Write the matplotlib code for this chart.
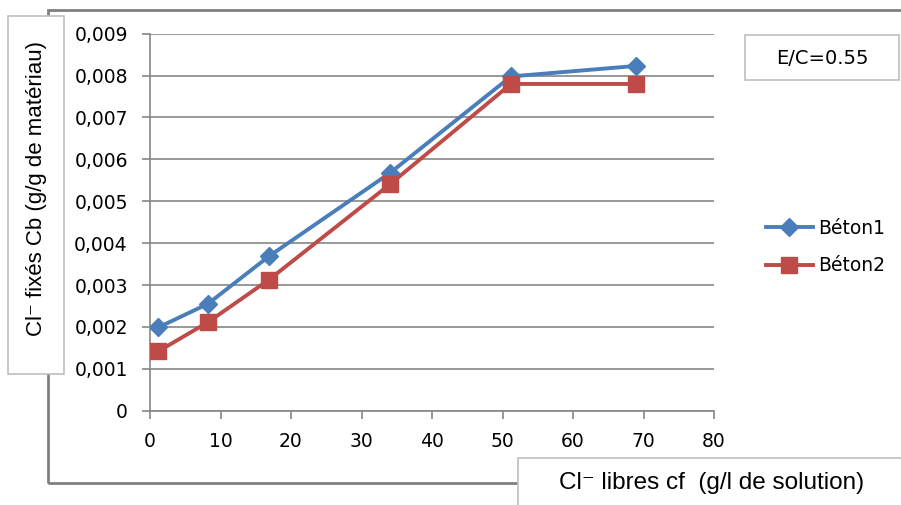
import matplotlib
matplotlib.use("Agg")
import matplotlib.pyplot as plt
from matplotlib.patches import Rectangle
from matplotlib.ticker import FuncFormatter

# data
cl_libres = [1.2, 8.2, 16.9, 34.0, 51.2, 68.9]
beton1 = [0.00199, 0.00255, 0.00369, 0.00567, 0.00798, 0.00823]
beton2 = [0.00142, 0.00211, 0.00313, 0.00540, 0.00780, 0.00780]
series_names = ["Béton1", "Béton2"]
x_ticks = [0, 10, 20, 30, 40, 50, 60, 70, 80]
y_ticks = [0, 0.001, 0.002, 0.003, 0.004, 0.005, 0.006, 0.007, 0.008, 0.009]

W, H = 901, 505
BLUE = "#4A7EBB"
RED = "#BE4B48"
GRID = "#868686"
LABEL_FONT = ["Liberation Sans", "DejaVu Sans"]


def fx(px):
    return px / W


def fy(py):
    return 1 - py / H


def box(fig, x0, y0, x1, y1, edge, lw=1.2, z=1, fill="white"):
    # rectangle given in pixel coords (top-left origin)
    r = Rectangle((fx(x0), fy(y1)), fx(x1 - x0), (y1 - y0) / H,
                  transform=fig.transFigure, facecolor=fill,
                  edgecolor=edge, linewidth=lw, zorder=z)
    fig.patches.append(r)


fig = plt.figure(figsize=(W / 100, H / 100), dpi=100)

# outer chart border
box(fig, 48, 10, 910, 483, "#808080", lw=2.0, z=-1, fill="none")

ax = fig.add_axes([fx(150), fy(410.7), fx(714 - 150), (410.7 - 33.7) / H])
ax.set_facecolor("none")

ax.plot(cl_libres, beton1, color=BLUE, lw=2.8, marker="D", ms=9,
        label=series_names[0], zorder=3)
ax.plot(cl_libres, beton2, color=RED, lw=2.8, marker="s", ms=11,
        label=series_names[1], zorder=3)

ax.set_xlim(0, 80)
ax.set_ylim(0, 0.009)
ax.set_xticks(x_ticks)
ax.set_yticks(y_ticks)
ax.yaxis.set_major_formatter(FuncFormatter(
    lambda v, p: "0" if v == 0 else f"{v:.3f}".replace(".", ",")))
ax.grid(axis="y", color=GRID, lw=1.2)
ax.set_axisbelow(True)
for s in ["top", "right"]:
    ax.spines[s].set_visible(False)
for s in ["left", "bottom"]:
    ax.spines[s].set_color(GRID)
    ax.spines[s].set_linewidth(1.2)
ax.tick_params(axis="both", direction="out", length=6, width=1.2,
               color=GRID, labelsize=13.5, labelcolor="black")
ax.tick_params(axis="y", pad=10)
ax.tick_params(axis="x", pad=9)

leg = ax.legend(loc="center left", bbox_to_anchor=((766 - 150) / 564, 0.434),
                frameon=False, fontsize=13.5, handlelength=2.5,
                labelspacing=1.0, handletextpad=0.3, borderaxespad=0,
                borderpad=0)

# y label box
box(fig, 8, 16, 64, 374, "#BFBFBF", lw=1.2, z=2)
fig.text(fx(37), fy(188), "Cl⁻ fixés Cb (g/g de matériau)", rotation=90,
         ha="center", va="center", fontsize=16, family=LABEL_FONT,
         zorder=5)

# x label box
box(fig, 518, 458, 910, 515, "#BFBFBF", lw=1.2, z=2)
fig.text(fx(712), fy(483), "Cl⁻ libres cf  (g/l de solution)",
         ha="center", va="center", fontsize=17.5, family=LABEL_FONT,
         zorder=5)

# E/C annotation box
box(fig, 745, 35, 899, 80, "#BFBFBF", lw=1.2, z=2)
fig.text(fx(822), fy(58), "E/C=0.55", ha="center", va="center",
         fontsize=14, zorder=5)

fig.savefig("out.png", dpi=100)
